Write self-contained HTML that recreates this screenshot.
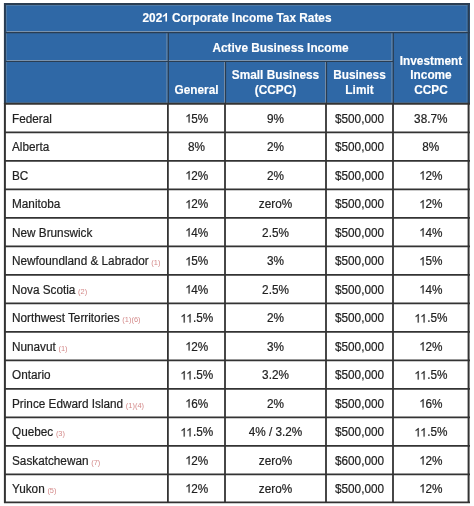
<!DOCTYPE html>
<html><head><meta charset="utf-8">
<style>
html{margin:0;padding:0;background:#fff}
body{margin:0;padding:0;background:#fff;width:474px;height:506px;overflow:hidden;position:relative;filter:blur(0.3px)}
body{font-family:"Liberation Sans",sans-serif;}
svg.grid{position:absolute;left:0;top:0}
#txt{position:absolute;left:0;top:0;width:474px;height:506px;will-change:transform}
.t{position:absolute;white-space:nowrap;font-size:12px;transform:scaleX(0.98);transform-origin:0 50%;color:#222;line-height:14px;-webkit-text-stroke:0.2px #222}
.c{text-align:center;transform-origin:50% 50%}
.h{position:absolute;white-space:nowrap;font-size:12px;color:#fff;font-weight:bold;line-height:14.8px;text-align:center;transform:scaleX(0.985);-webkit-text-stroke:0.15px #fff}
.one{display:inline-block;vertical-align:baseline;overflow:visible}
.fn{font-size:7.6px;margin-left:-0.6px;color:#d48a8a;-webkit-text-stroke:0}
</style></head><body>

<svg class="grid" width="474" height="506" viewBox="0 0 474 506"><rect x="4" y="3" width="466" height="101" fill="#2f68a6"/><line x1="5" y1="31.5" x2="468" y2="31.5" stroke="#7a93ae" stroke-width="1"/><line x1="5" y1="60.5" x2="392" y2="60.5" stroke="#7a93ae" stroke-width="1"/><line x1="5" y1="102.5" x2="468" y2="102.5" stroke="#4f7aa6" stroke-width="1"/><line x1="6" y1="5.5" x2="468" y2="5.5" stroke="#4f7aa6" stroke-width="1"/><line x1="6.5" y1="5" x2="6.5" y2="103" stroke="#4f7aa6" stroke-width="1"/><line x1="467.0" y1="5" x2="467.0" y2="103" stroke="#4f7aa6" stroke-width="1"/><line x1="167.0" y1="32" x2="167.0" y2="103" stroke="#7a93ae" stroke-width="1"/><line x1="224.5" y1="61" x2="224.5" y2="103" stroke="#7a93ae" stroke-width="1"/><line x1="325.5" y1="61" x2="325.5" y2="103" stroke="#7a93ae" stroke-width="1"/><line x1="392.0" y1="32" x2="392.0" y2="103" stroke="#7a93ae" stroke-width="1"/><line x1="4" y1="4.0" x2="470" y2="4.0" stroke="#2a3d52" stroke-width="2"/><line x1="4" y1="32.6" x2="470" y2="32.6" stroke="#2a3d52" stroke-width="1.4"/><line x1="4" y1="61.5" x2="393" y2="61.5" stroke="#2a3d52" stroke-width="1.2"/><line x1="168.3" y1="32" x2="168.3" y2="103" stroke="#2a3d52" stroke-width="1.2"/><line x1="225.5" y1="61" x2="225.5" y2="103" stroke="#2a3d52" stroke-width="1.2"/><line x1="326.5" y1="61" x2="326.5" y2="103" stroke="#2a3d52" stroke-width="1.2"/><line x1="393.3" y1="32" x2="393.3" y2="103" stroke="#2a3d52" stroke-width="1.2"/><line x1="4.9" y1="3" x2="4.9" y2="104" stroke="#2a3d52" stroke-width="2"/><line x1="468.7" y1="3" x2="468.7" y2="104" stroke="#2a3d52" stroke-width="2"/><line x1="4" y1="103.8" x2="470" y2="103.8" stroke="#333333" stroke-width="2"/><line x1="4" y1="132.33" x2="470" y2="132.33" stroke="#333333" stroke-width="1.7"/><line x1="4" y1="160.84" x2="470" y2="160.84" stroke="#333333" stroke-width="1.7"/><line x1="4" y1="189.35000000000002" x2="470" y2="189.35000000000002" stroke="#333333" stroke-width="1.7"/><line x1="4" y1="217.86" x2="470" y2="217.86" stroke="#333333" stroke-width="1.7"/><line x1="4" y1="246.37" x2="470" y2="246.37" stroke="#333333" stroke-width="1.7"/><line x1="4" y1="274.88" x2="470" y2="274.88" stroke="#333333" stroke-width="1.7"/><line x1="4" y1="303.39" x2="470" y2="303.39" stroke="#333333" stroke-width="1.7"/><line x1="4" y1="331.90000000000003" x2="470" y2="331.90000000000003" stroke="#333333" stroke-width="1.7"/><line x1="4" y1="360.41" x2="470" y2="360.41" stroke="#333333" stroke-width="1.7"/><line x1="4" y1="388.9200000000001" x2="470" y2="388.9200000000001" stroke="#333333" stroke-width="1.7"/><line x1="4" y1="417.43000000000006" x2="470" y2="417.43000000000006" stroke="#333333" stroke-width="1.7"/><line x1="4" y1="445.94000000000005" x2="470" y2="445.94000000000005" stroke="#333333" stroke-width="1.7"/><line x1="4" y1="474.45000000000005" x2="470" y2="474.45000000000005" stroke="#333333" stroke-width="1.7"/><line x1="4" y1="502.4" x2="470" y2="502.4" stroke="#333333" stroke-width="1.6"/><line x1="4.9" y1="103" x2="4.9" y2="503" stroke="#333333" stroke-width="2"/><line x1="167.9" y1="103" x2="167.9" y2="503" stroke="#333333" stroke-width="1.8"/><line x1="225.0" y1="103" x2="225.0" y2="503" stroke="#333333" stroke-width="1.8"/><line x1="326.0" y1="103" x2="326.0" y2="503" stroke="#333333" stroke-width="1.8"/><line x1="393.0" y1="103" x2="393.0" y2="503" stroke="#333333" stroke-width="1.8"/><line x1="468.6" y1="103" x2="468.6" y2="503" stroke="#333333" stroke-width="2"/></svg>
<div id="txt">
<div class="h" style="left:4px;width:466px;top:10.64px">202<svg class="one" viewBox="0 0 1139 1466" style="width:0.5562em;height:0.7158em"><path transform="translate(0,1466) scale(1,-1)" d="M848 0L567 0L567 1059C435 936 281 845 105 786L105 1039C198 1069 299 1127 409 1212C519 1298 594 1398 634 1466L848 1466Z" fill="#fff"/></svg> Corporate Income Tax Rates</div>
<div class="h" style="left:168px;width:225px;top:40.84px">Active Business Income</div>
<div class="h" style="left:168px;width:57px;top:82.64px">General</div>
<div class="h" style="left:225px;width:101px;top:67.94px">Small Business</div>
<div class="h" style="left:225px;width:101px;top:82.64px">(CCPC)</div>
<div class="h" style="left:326px;width:67px;top:68.04px">Business</div>
<div class="h" style="left:326px;width:67px;top:82.64px">Limit</div>
<div class="h" style="left:393px;width:76px;top:54.04px">Investment</div>
<div class="h" style="left:393px;width:76px;top:67.94px">Income</div>
<div class="h" style="left:393px;width:76px;top:82.74px">CCPC</div>
<div class="t" style="left:11.5px;top:111.61px">Federal</div>
<div class="t c" style="left:167.9px;width:57.1px;top:111.61px"><svg class="one" viewBox="0 0 1139 1466" style="width:0.5562em;height:0.7158em"><path transform="translate(0,1466) scale(1,-1)" d="M763 0L583 0L583 1147C540 1106 483 1064 413 1023C344 982 281 952 225 932L225 1106C326 1154 414 1211 489 1279C564 1347 617 1412 648 1466L763 1466Z" fill="#222" stroke="#222" stroke-width="30"/></svg>5%</div>
<div class="t c" style="left:225.0px;width:101.0px;top:111.61px">9%</div>
<div class="t c" style="left:326.0px;width:67.0px;top:111.61px">$500,000</div>
<div class="t c" style="left:393.0px;width:75.6px;top:111.61px">38.7%</div>
<div class="t" style="left:11.5px;top:140.13px">Alberta</div>
<div class="t c" style="left:167.9px;width:57.1px;top:140.13px">8%</div>
<div class="t c" style="left:225.0px;width:101.0px;top:140.13px">2%</div>
<div class="t c" style="left:326.0px;width:67.0px;top:140.13px">$500,000</div>
<div class="t c" style="left:393.0px;width:75.6px;top:140.13px">8%</div>
<div class="t" style="left:11.5px;top:168.64px">BC</div>
<div class="t c" style="left:167.9px;width:57.1px;top:168.64px"><svg class="one" viewBox="0 0 1139 1466" style="width:0.5562em;height:0.7158em"><path transform="translate(0,1466) scale(1,-1)" d="M763 0L583 0L583 1147C540 1106 483 1064 413 1023C344 982 281 952 225 932L225 1106C326 1154 414 1211 489 1279C564 1347 617 1412 648 1466L763 1466Z" fill="#222" stroke="#222" stroke-width="30"/></svg>2%</div>
<div class="t c" style="left:225.0px;width:101.0px;top:168.64px">2%</div>
<div class="t c" style="left:326.0px;width:67.0px;top:168.64px">$500,000</div>
<div class="t c" style="left:393.0px;width:75.6px;top:168.64px"><svg class="one" viewBox="0 0 1139 1466" style="width:0.5562em;height:0.7158em"><path transform="translate(0,1466) scale(1,-1)" d="M763 0L583 0L583 1147C540 1106 483 1064 413 1023C344 982 281 952 225 932L225 1106C326 1154 414 1211 489 1279C564 1347 617 1412 648 1466L763 1466Z" fill="#222" stroke="#222" stroke-width="30"/></svg>2%</div>
<div class="t" style="left:11.5px;top:197.15px">Manitoba</div>
<div class="t c" style="left:167.9px;width:57.1px;top:197.15px"><svg class="one" viewBox="0 0 1139 1466" style="width:0.5562em;height:0.7158em"><path transform="translate(0,1466) scale(1,-1)" d="M763 0L583 0L583 1147C540 1106 483 1064 413 1023C344 982 281 952 225 932L225 1106C326 1154 414 1211 489 1279C564 1347 617 1412 648 1466L763 1466Z" fill="#222" stroke="#222" stroke-width="30"/></svg>2%</div>
<div class="t c" style="left:225.0px;width:101.0px;top:197.15px">zero%</div>
<div class="t c" style="left:326.0px;width:67.0px;top:197.15px">$500,000</div>
<div class="t c" style="left:393.0px;width:75.6px;top:197.15px"><svg class="one" viewBox="0 0 1139 1466" style="width:0.5562em;height:0.7158em"><path transform="translate(0,1466) scale(1,-1)" d="M763 0L583 0L583 1147C540 1106 483 1064 413 1023C344 982 281 952 225 932L225 1106C326 1154 414 1211 489 1279C564 1347 617 1412 648 1466L763 1466Z" fill="#222" stroke="#222" stroke-width="30"/></svg>2%</div>
<div class="t" style="left:11.5px;top:225.66px">New Brunswick</div>
<div class="t c" style="left:167.9px;width:57.1px;top:225.66px"><svg class="one" viewBox="0 0 1139 1466" style="width:0.5562em;height:0.7158em"><path transform="translate(0,1466) scale(1,-1)" d="M763 0L583 0L583 1147C540 1106 483 1064 413 1023C344 982 281 952 225 932L225 1106C326 1154 414 1211 489 1279C564 1347 617 1412 648 1466L763 1466Z" fill="#222" stroke="#222" stroke-width="30"/></svg>4%</div>
<div class="t c" style="left:225.0px;width:101.0px;top:225.66px">2.5%</div>
<div class="t c" style="left:326.0px;width:67.0px;top:225.66px">$500,000</div>
<div class="t c" style="left:393.0px;width:75.6px;top:225.66px"><svg class="one" viewBox="0 0 1139 1466" style="width:0.5562em;height:0.7158em"><path transform="translate(0,1466) scale(1,-1)" d="M763 0L583 0L583 1147C540 1106 483 1064 413 1023C344 982 281 952 225 932L225 1106C326 1154 414 1211 489 1279C564 1347 617 1412 648 1466L763 1466Z" fill="#222" stroke="#222" stroke-width="30"/></svg>4%</div>
<div class="t" style="left:11.5px;top:254.17px">Newfoundland &amp; Labrador <span class="fn">(1)</span></div>
<div class="t c" style="left:167.9px;width:57.1px;top:254.17px"><svg class="one" viewBox="0 0 1139 1466" style="width:0.5562em;height:0.7158em"><path transform="translate(0,1466) scale(1,-1)" d="M763 0L583 0L583 1147C540 1106 483 1064 413 1023C344 982 281 952 225 932L225 1106C326 1154 414 1211 489 1279C564 1347 617 1412 648 1466L763 1466Z" fill="#222" stroke="#222" stroke-width="30"/></svg>5%</div>
<div class="t c" style="left:225.0px;width:101.0px;top:254.17px">3%</div>
<div class="t c" style="left:326.0px;width:67.0px;top:254.17px">$500,000</div>
<div class="t c" style="left:393.0px;width:75.6px;top:254.17px"><svg class="one" viewBox="0 0 1139 1466" style="width:0.5562em;height:0.7158em"><path transform="translate(0,1466) scale(1,-1)" d="M763 0L583 0L583 1147C540 1106 483 1064 413 1023C344 982 281 952 225 932L225 1106C326 1154 414 1211 489 1279C564 1347 617 1412 648 1466L763 1466Z" fill="#222" stroke="#222" stroke-width="30"/></svg>5%</div>
<div class="t" style="left:11.5px;top:282.68px">Nova Scotia <span class="fn">(2)</span></div>
<div class="t c" style="left:167.9px;width:57.1px;top:282.68px"><svg class="one" viewBox="0 0 1139 1466" style="width:0.5562em;height:0.7158em"><path transform="translate(0,1466) scale(1,-1)" d="M763 0L583 0L583 1147C540 1106 483 1064 413 1023C344 982 281 952 225 932L225 1106C326 1154 414 1211 489 1279C564 1347 617 1412 648 1466L763 1466Z" fill="#222" stroke="#222" stroke-width="30"/></svg>4%</div>
<div class="t c" style="left:225.0px;width:101.0px;top:282.68px">2.5%</div>
<div class="t c" style="left:326.0px;width:67.0px;top:282.68px">$500,000</div>
<div class="t c" style="left:393.0px;width:75.6px;top:282.68px"><svg class="one" viewBox="0 0 1139 1466" style="width:0.5562em;height:0.7158em"><path transform="translate(0,1466) scale(1,-1)" d="M763 0L583 0L583 1147C540 1106 483 1064 413 1023C344 982 281 952 225 932L225 1106C326 1154 414 1211 489 1279C564 1347 617 1412 648 1466L763 1466Z" fill="#222" stroke="#222" stroke-width="30"/></svg>4%</div>
<div class="t" style="left:11.5px;top:311.19px">Northwest Territories <span class="fn">(1)(6)</span></div>
<div class="t c" style="left:167.9px;width:57.1px;top:311.19px"><svg class="one" viewBox="0 0 1139 1466" style="width:0.5562em;height:0.7158em"><path transform="translate(0,1466) scale(1,-1)" d="M763 0L583 0L583 1147C540 1106 483 1064 413 1023C344 982 281 952 225 932L225 1106C326 1154 414 1211 489 1279C564 1347 617 1412 648 1466L763 1466Z" fill="#222" stroke="#222" stroke-width="30"/></svg><svg class="one" viewBox="0 0 1139 1466" style="width:0.5562em;height:0.7158em"><path transform="translate(0,1466) scale(1,-1)" d="M763 0L583 0L583 1147C540 1106 483 1064 413 1023C344 982 281 952 225 932L225 1106C326 1154 414 1211 489 1279C564 1347 617 1412 648 1466L763 1466Z" fill="#222" stroke="#222" stroke-width="30"/></svg>.5%</div>
<div class="t c" style="left:225.0px;width:101.0px;top:311.19px">2%</div>
<div class="t c" style="left:326.0px;width:67.0px;top:311.19px">$500,000</div>
<div class="t c" style="left:393.0px;width:75.6px;top:311.19px"><svg class="one" viewBox="0 0 1139 1466" style="width:0.5562em;height:0.7158em"><path transform="translate(0,1466) scale(1,-1)" d="M763 0L583 0L583 1147C540 1106 483 1064 413 1023C344 982 281 952 225 932L225 1106C326 1154 414 1211 489 1279C564 1347 617 1412 648 1466L763 1466Z" fill="#222" stroke="#222" stroke-width="30"/></svg><svg class="one" viewBox="0 0 1139 1466" style="width:0.5562em;height:0.7158em"><path transform="translate(0,1466) scale(1,-1)" d="M763 0L583 0L583 1147C540 1106 483 1064 413 1023C344 982 281 952 225 932L225 1106C326 1154 414 1211 489 1279C564 1347 617 1412 648 1466L763 1466Z" fill="#222" stroke="#222" stroke-width="30"/></svg>.5%</div>
<div class="t" style="left:11.5px;top:339.70px">Nunavut <span class="fn">(1)</span></div>
<div class="t c" style="left:167.9px;width:57.1px;top:339.70px"><svg class="one" viewBox="0 0 1139 1466" style="width:0.5562em;height:0.7158em"><path transform="translate(0,1466) scale(1,-1)" d="M763 0L583 0L583 1147C540 1106 483 1064 413 1023C344 982 281 952 225 932L225 1106C326 1154 414 1211 489 1279C564 1347 617 1412 648 1466L763 1466Z" fill="#222" stroke="#222" stroke-width="30"/></svg>2%</div>
<div class="t c" style="left:225.0px;width:101.0px;top:339.70px">3%</div>
<div class="t c" style="left:326.0px;width:67.0px;top:339.70px">$500,000</div>
<div class="t c" style="left:393.0px;width:75.6px;top:339.70px"><svg class="one" viewBox="0 0 1139 1466" style="width:0.5562em;height:0.7158em"><path transform="translate(0,1466) scale(1,-1)" d="M763 0L583 0L583 1147C540 1106 483 1064 413 1023C344 982 281 952 225 932L225 1106C326 1154 414 1211 489 1279C564 1347 617 1412 648 1466L763 1466Z" fill="#222" stroke="#222" stroke-width="30"/></svg>2%</div>
<div class="t" style="left:11.5px;top:368.21px">Ontario</div>
<div class="t c" style="left:167.9px;width:57.1px;top:368.21px"><svg class="one" viewBox="0 0 1139 1466" style="width:0.5562em;height:0.7158em"><path transform="translate(0,1466) scale(1,-1)" d="M763 0L583 0L583 1147C540 1106 483 1064 413 1023C344 982 281 952 225 932L225 1106C326 1154 414 1211 489 1279C564 1347 617 1412 648 1466L763 1466Z" fill="#222" stroke="#222" stroke-width="30"/></svg><svg class="one" viewBox="0 0 1139 1466" style="width:0.5562em;height:0.7158em"><path transform="translate(0,1466) scale(1,-1)" d="M763 0L583 0L583 1147C540 1106 483 1064 413 1023C344 982 281 952 225 932L225 1106C326 1154 414 1211 489 1279C564 1347 617 1412 648 1466L763 1466Z" fill="#222" stroke="#222" stroke-width="30"/></svg>.5%</div>
<div class="t c" style="left:225.0px;width:101.0px;top:368.21px">3.2%</div>
<div class="t c" style="left:326.0px;width:67.0px;top:368.21px">$500,000</div>
<div class="t c" style="left:393.0px;width:75.6px;top:368.21px"><svg class="one" viewBox="0 0 1139 1466" style="width:0.5562em;height:0.7158em"><path transform="translate(0,1466) scale(1,-1)" d="M763 0L583 0L583 1147C540 1106 483 1064 413 1023C344 982 281 952 225 932L225 1106C326 1154 414 1211 489 1279C564 1347 617 1412 648 1466L763 1466Z" fill="#222" stroke="#222" stroke-width="30"/></svg><svg class="one" viewBox="0 0 1139 1466" style="width:0.5562em;height:0.7158em"><path transform="translate(0,1466) scale(1,-1)" d="M763 0L583 0L583 1147C540 1106 483 1064 413 1023C344 982 281 952 225 932L225 1106C326 1154 414 1211 489 1279C564 1347 617 1412 648 1466L763 1466Z" fill="#222" stroke="#222" stroke-width="30"/></svg>.5%</div>
<div class="t" style="left:11.5px;top:396.72px">Prince Edward Island <span class="fn">(1)(4)</span></div>
<div class="t c" style="left:167.9px;width:57.1px;top:396.72px"><svg class="one" viewBox="0 0 1139 1466" style="width:0.5562em;height:0.7158em"><path transform="translate(0,1466) scale(1,-1)" d="M763 0L583 0L583 1147C540 1106 483 1064 413 1023C344 982 281 952 225 932L225 1106C326 1154 414 1211 489 1279C564 1347 617 1412 648 1466L763 1466Z" fill="#222" stroke="#222" stroke-width="30"/></svg>6%</div>
<div class="t c" style="left:225.0px;width:101.0px;top:396.72px">2%</div>
<div class="t c" style="left:326.0px;width:67.0px;top:396.72px">$500,000</div>
<div class="t c" style="left:393.0px;width:75.6px;top:396.72px"><svg class="one" viewBox="0 0 1139 1466" style="width:0.5562em;height:0.7158em"><path transform="translate(0,1466) scale(1,-1)" d="M763 0L583 0L583 1147C540 1106 483 1064 413 1023C344 982 281 952 225 932L225 1106C326 1154 414 1211 489 1279C564 1347 617 1412 648 1466L763 1466Z" fill="#222" stroke="#222" stroke-width="30"/></svg>6%</div>
<div class="t" style="left:11.5px;top:425.23px">Quebec <span class="fn">(3)</span></div>
<div class="t c" style="left:167.9px;width:57.1px;top:425.23px"><svg class="one" viewBox="0 0 1139 1466" style="width:0.5562em;height:0.7158em"><path transform="translate(0,1466) scale(1,-1)" d="M763 0L583 0L583 1147C540 1106 483 1064 413 1023C344 982 281 952 225 932L225 1106C326 1154 414 1211 489 1279C564 1347 617 1412 648 1466L763 1466Z" fill="#222" stroke="#222" stroke-width="30"/></svg><svg class="one" viewBox="0 0 1139 1466" style="width:0.5562em;height:0.7158em"><path transform="translate(0,1466) scale(1,-1)" d="M763 0L583 0L583 1147C540 1106 483 1064 413 1023C344 982 281 952 225 932L225 1106C326 1154 414 1211 489 1279C564 1347 617 1412 648 1466L763 1466Z" fill="#222" stroke="#222" stroke-width="30"/></svg>.5%</div>
<div class="t c" style="left:225.0px;width:101.0px;top:425.23px">4% / 3.2%</div>
<div class="t c" style="left:326.0px;width:67.0px;top:425.23px">$500,000</div>
<div class="t c" style="left:393.0px;width:75.6px;top:425.23px"><svg class="one" viewBox="0 0 1139 1466" style="width:0.5562em;height:0.7158em"><path transform="translate(0,1466) scale(1,-1)" d="M763 0L583 0L583 1147C540 1106 483 1064 413 1023C344 982 281 952 225 932L225 1106C326 1154 414 1211 489 1279C564 1347 617 1412 648 1466L763 1466Z" fill="#222" stroke="#222" stroke-width="30"/></svg><svg class="one" viewBox="0 0 1139 1466" style="width:0.5562em;height:0.7158em"><path transform="translate(0,1466) scale(1,-1)" d="M763 0L583 0L583 1147C540 1106 483 1064 413 1023C344 982 281 952 225 932L225 1106C326 1154 414 1211 489 1279C564 1347 617 1412 648 1466L763 1466Z" fill="#222" stroke="#222" stroke-width="30"/></svg>.5%</div>
<div class="t" style="left:11.5px;top:453.74px">Saskatchewan <span class="fn">(7)</span></div>
<div class="t c" style="left:167.9px;width:57.1px;top:453.74px"><svg class="one" viewBox="0 0 1139 1466" style="width:0.5562em;height:0.7158em"><path transform="translate(0,1466) scale(1,-1)" d="M763 0L583 0L583 1147C540 1106 483 1064 413 1023C344 982 281 952 225 932L225 1106C326 1154 414 1211 489 1279C564 1347 617 1412 648 1466L763 1466Z" fill="#222" stroke="#222" stroke-width="30"/></svg>2%</div>
<div class="t c" style="left:225.0px;width:101.0px;top:453.74px">zero%</div>
<div class="t c" style="left:326.0px;width:67.0px;top:453.74px">$600,000</div>
<div class="t c" style="left:393.0px;width:75.6px;top:453.74px"><svg class="one" viewBox="0 0 1139 1466" style="width:0.5562em;height:0.7158em"><path transform="translate(0,1466) scale(1,-1)" d="M763 0L583 0L583 1147C540 1106 483 1064 413 1023C344 982 281 952 225 932L225 1106C326 1154 414 1211 489 1279C564 1347 617 1412 648 1466L763 1466Z" fill="#222" stroke="#222" stroke-width="30"/></svg>2%</div>
<div class="t" style="left:11.5px;top:481.97px">Yukon <span class="fn">(5)</span></div>
<div class="t c" style="left:167.9px;width:57.1px;top:481.97px"><svg class="one" viewBox="0 0 1139 1466" style="width:0.5562em;height:0.7158em"><path transform="translate(0,1466) scale(1,-1)" d="M763 0L583 0L583 1147C540 1106 483 1064 413 1023C344 982 281 952 225 932L225 1106C326 1154 414 1211 489 1279C564 1347 617 1412 648 1466L763 1466Z" fill="#222" stroke="#222" stroke-width="30"/></svg>2%</div>
<div class="t c" style="left:225.0px;width:101.0px;top:481.97px">zero%</div>
<div class="t c" style="left:326.0px;width:67.0px;top:481.97px">$500,000</div>
<div class="t c" style="left:393.0px;width:75.6px;top:481.97px"><svg class="one" viewBox="0 0 1139 1466" style="width:0.5562em;height:0.7158em"><path transform="translate(0,1466) scale(1,-1)" d="M763 0L583 0L583 1147C540 1106 483 1064 413 1023C344 982 281 952 225 932L225 1106C326 1154 414 1211 489 1279C564 1347 617 1412 648 1466L763 1466Z" fill="#222" stroke="#222" stroke-width="30"/></svg>2%</div>
</div></body></html>
